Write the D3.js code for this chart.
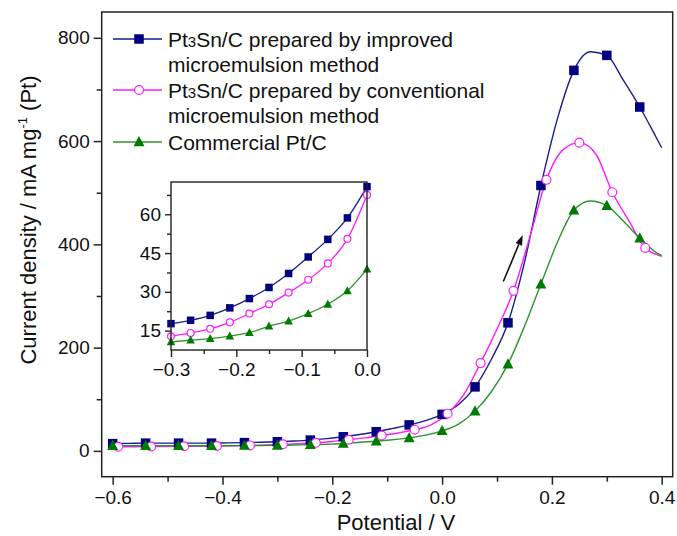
<!DOCTYPE html>
<html>
<head>
<meta charset="utf-8">
<script src="https://cdn.jsdelivr.net/npm/d3@7"></script>
<style>
  body { margin: 0; background: #fff; }
  svg { display: block; font-family: Arial, "Liberation Sans", sans-serif; }
</style>
</head>
<body>
<script>
// main curves, blue + green share potentials, pink is sampled 0.01 V later
var potMain = [-0.60,-0.57,-0.54,-0.51,-0.48,-0.45,-0.42,-0.39,-0.36,-0.33,-0.30,-0.27,-0.24,-0.21,-0.18,-0.15,-0.12,-0.09,-0.06,-0.03,
  0.00,0.03,0.06,0.09,0.12,0.15,0.18,0.21,0.24,0.27,0.30,0.33,0.36,0.39,0.40];
var potPink = [-0.59,-0.56,-0.53,-0.50,-0.47,-0.44,-0.41,-0.38,-0.35,-0.32,-0.29,-0.26,-0.23,-0.20,-0.17,-0.14,-0.11,-0.08,-0.05,-0.02,
  0.01,0.04,0.07,0.10,0.13,0.16,0.19,0.22,0.25,0.28,0.31,0.34,0.37,0.40];

var improved = [14,14.5,15,15,15,15,15,15.5,16,16.8,17.7,19.0,20.9,23.8,27.4,31.7,37.1,43.5,50.3,58.6,
  70.7,90,124,178,248,365,514,643,737,773,766,718,666,607,587];
var conventional = [8,8,8.5,8.5,9,9,9.5,10,10.5,11.5,12.8,14.1,15.7,18.2,21.6,25.2,29.7,34.7,41.0,50.5,
  72,110,170,236,310,415,525,583,597,575,501,446,393,377];
var commercial = [10,10,10,10,10,10,10,10,10.3,10.5,10.6,11.3,11.9,12.9,14.2,16.7,18.7,21.6,25.2,30.4,
  38.8,52,77,115,168,241,323,404,466,484,475,445,412,384,378];

// inset (-0.3 .. 0 V)
var potInset = [-0.30,-0.27,-0.24,-0.21,-0.18,-0.15,-0.12,-0.09,-0.06,-0.03,0.00];
var insetImproved = [17.7,19.0,20.9,23.8,27.4,31.7,37.1,43.5,50.3,58.6,70.7];
var insetConventional = [12.8,14.1,15.7,18.2,21.6,25.2,29.7,34.7,41.0,50.5,67.5];
var insetCommercial = [10.6,11.3,11.9,12.9,14.2,16.7,18.7,21.6,25.2,30.4,38.8];

var xTicks = [-0.6,-0.4,-0.2,0.0,0.2,0.4];
var xMinor = [-0.5,-0.3,-0.1,0.1,0.3];
var yTicks = [0,200,400,600,800];
var yMinor = [100,300,500,700];
var xiTicks = [-0.3,-0.2,-0.1,0.0];
var xiMinor = [-0.25,-0.15,-0.05];
var yiTicks = [15,30,45,60];
var yiMinor = [22.5,37.5,52.5,67.5];

var arrowFrom = [0.1115, 328];
var arrowTo = [0.1468, 418];

var legendLabels = [
  ['Pt|3|Sn/C prepared by improved', 'microemulsion method'],
  ['Pt|3|Sn/C prepared by conventional', 'microemulsion method'],
  ['Commercial Pt/C']
];

var W = 677, H = 536;
var svg = d3.select('body').append('svg').attr('width', W).attr('height', H);

var x = d3.scaleLinear().domain([-0.62, 0.42]).range([101.7, 672.7]);
var y = d3.scaleLinear().domain([-50, 850]).range([476.7, 12]);

var series = [
  {pot: potMain, val: improved, ins: insetImproved, line: '#1c1c8a', fill: '#000080', shape: 'sq'},
  {pot: potPink, val: conventional, ins: insetConventional, line: '#ff1aff', fill: '#fff', stroke: '#ff1aff', shape: 'ci'},
  {pot: potMain, val: commercial, ins: insetCommercial, line: '#2e942e', fill: '#007a00', shape: 'tr'}
];

var tickFont = 19;

function marker(g, s, cx, cy, size){
  if(s.shape === 'sq'){
    g.append('rect').attr('x', cx - size/2).attr('y', cy - size/2)
      .attr('width', size).attr('height', size).attr('fill', s.fill);
  } else if(s.shape === 'ci'){
    g.append('circle').attr('cx', cx).attr('cy', cy).attr('r', size/2 - 0.3)
      .attr('fill', '#fff').attr('stroke', s.stroke).attr('stroke-width', 1.2);
  } else {
    var h = size*1.0, w = size*1.15;
    g.append('path').attr('d', 'M' + cx + ',' + (cy - h*0.62) + 'L' + (cx + w/2) + ',' + (cy + h*0.45) +
      'L' + (cx - w/2) + ',' + (cy + h*0.45) + 'Z').attr('fill', s.fill);
  }
}

// main frame + axes
var gx = svg.append('g').attr('transform', 'translate(0,' + y.range()[0] + ')');
gx.call(d3.axisBottom(x).tickValues(xTicks).tickSize(8).tickPadding(6).tickFormat(d3.format('.1f')));
gx.append('g').call(d3.axisBottom(x).tickValues(xMinor).tickSize(5).tickFormat(''));
var gy = svg.append('g').attr('transform', 'translate(' + x.range()[0] + ',0)');
gy.call(d3.axisLeft(y).tickValues(yTicks).tickSize(8).tickPadding(4));
gy.append('g').call(d3.axisLeft(y).tickValues(yMinor).tickSize(5).tickFormat(''));
svg.selectAll('.domain').remove();
svg.selectAll('.tick line').attr('stroke', '#222').attr('stroke-width', 1.5);
svg.selectAll('.tick text').attr('font-size', tickFont).attr('fill', '#111').attr('font-family', 'Arial, Liberation Sans');

svg.append('rect').attr('x', x.range()[0]).attr('y', y.range()[1])
  .attr('width', x.range()[1] - x.range()[0]).attr('height', y.range()[0] - y.range()[1])
  .attr('fill', 'none').attr('stroke', '#222').attr('stroke-width', 1.5);

// axis titles
svg.append('text').attr('x', 396).attr('y', 530).attr('text-anchor', 'middle')
  .attr('font-size', 22).attr('fill', '#111').text('Potential / V');
var yt = svg.append('text').attr('transform', 'translate(36,220) rotate(-90)').attr('text-anchor', 'middle')
  .attr('font-size', 22).attr('fill', '#111');
yt.append('tspan').text('Current density / mA mg');
yt.append('tspan').attr('font-size', 13).attr('dy', -9).text('-1');
yt.append('tspan').attr('dy', 9).text(' (Pt)');

// curves
var line = d3.line().curve(d3.curveMonotoneX);
var plot = svg.append('g');
series.forEach(function(s){
  var pts = s.pot.map(function(p, i){ return [x(p), y(s.val[i])]; });
  plot.append('path').attr('d', line(pts)).attr('fill', 'none')
    .attr('stroke', s.line).attr('stroke-width', 1.4);
});
series.forEach(function(s){
  var mg = plot.append('g');
  s.pot.forEach(function(p, i){
    if(i % 2 === 0 && p < 0.395) marker(mg, s, x(p), y(s.val[i]), 9.5);
  });
});

// arrow
var ax0 = x(arrowFrom[0]), ay0 = y(arrowFrom[1]), ax1 = x(arrowTo[0]), ay1 = y(arrowTo[1]);
var ang = Math.atan2(ay1 - ay0, ax1 - ax0);
var hl = 10, hw = 3.5;
var bx = ax1 - hl*Math.cos(ang), by = ay1 - hl*Math.sin(ang);
svg.append('line').attr('x1', ax0).attr('y1', ay0).attr('x2', bx).attr('y2', by)
  .attr('stroke', '#111').attr('stroke-width', 1.6);
svg.append('path').attr('d', 'M' + ax1 + ',' + ay1 +
  'L' + (bx + hw*Math.sin(ang)) + ',' + (by - hw*Math.cos(ang)) +
  'L' + (bx - hw*Math.sin(ang)) + ',' + (by + hw*Math.cos(ang)) + 'Z').attr('fill', '#111');

// legend
var lg = svg.append('g');
var rowY = [39, 90, 142], lineGap = 25.5;
series.forEach(function(s, k){
  var yy = rowY[k];
  lg.append('line').attr('x1', 113).attr('x2', 162).attr('y1', yy).attr('y2', yy)
    .attr('stroke', s.line).attr('stroke-width', 1.4);
  marker(lg, s, 139, yy, 9.5);
  legendLabels[k].forEach(function(txt, j){
    var t = lg.append('text').attr('x', 168).attr('y', yy + 7.5 + j*lineGap)
      .attr('font-size', 21).attr('fill', '#111');
    var parts = txt.split('|');
    parts.forEach(function(pt, m){
      if(m === 1) t.append('tspan').attr('font-size', 15).text(pt);
      else t.append('tspan').text(pt);
    });
  });
});

// inset
var xi = d3.scaleLinear().domain([-0.3, 0]).range([171, 367]);
var yi = d3.scaleLinear().domain([7.5, 72.5]).range([350, 182]);
var ins = svg.append('g');
ins.append('rect').attr('x', 171).attr('y', 182).attr('width', 196).attr('height', 168).attr('fill', '#fff');
var gxi = ins.append('g').attr('transform', 'translate(0,' + yi.range()[0] + ')');
gxi.call(d3.axisBottom(xi).tickValues(xiTicks).tickSize(7).tickPadding(6).tickFormat(d3.format('.1f')));
gxi.append('g').call(d3.axisBottom(xi).tickValues(xiMinor).tickSize(4).tickFormat(''));
var gyi = ins.append('g').attr('transform', 'translate(' + xi.range()[0] + ',0)');
gyi.call(d3.axisLeft(yi).tickValues(yiTicks).tickSize(6).tickPadding(4));
gyi.append('g').call(d3.axisLeft(yi).tickValues(yiMinor).tickSize(4).tickFormat(''));
ins.selectAll('.domain').remove();
ins.selectAll('.tick line').attr('stroke', '#222').attr('stroke-width', 1.4);
ins.selectAll('.tick text').attr('font-size', tickFont).attr('fill', '#111').attr('font-family', 'Arial, Liberation Sans');

series.forEach(function(s){
  var pts = potInset.map(function(p, i){ return [xi(p), yi(s.ins[i])]; });
  ins.append('path').attr('d', line(pts)).attr('fill', 'none')
    .attr('stroke', s.line).attr('stroke-width', 1.3);
});
series.forEach(function(s){
  var mg = ins.append('g');
  potInset.forEach(function(p, i){ marker(mg, s, xi(p), yi(s.ins[i]), 7.5); });
});
ins.append('rect').attr('x', 171).attr('y', 182).attr('width', 196).attr('height', 168)
  .attr('fill', 'none').attr('stroke', '#222').attr('stroke-width', 1.4);
</script>
</body>
</html>
